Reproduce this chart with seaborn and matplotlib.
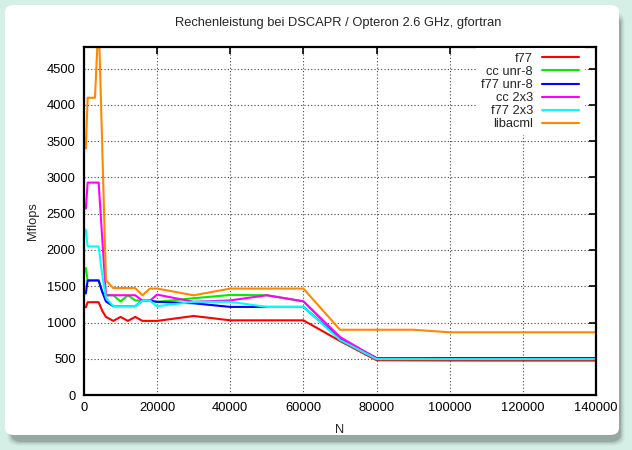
import numpy as np
import pandas as pd
import seaborn as sns
import matplotlib
matplotlib.use("Agg")
import matplotlib.pyplot as plt
from matplotlib.patches import FancyBboxPatch

# ---------------- data ----------------
N = [500, 1000, 2000, 3000, 4000, 5000, 6000, 8000, 10000, 12000, 14000, 16000,
     18000, 20000, 30000, 40000, 50000, 60000, 70000, 80000, 90000, 100000,
     110000, 120000, 130000, 140000]
f77 = [1210, 1280, 1280, 1280, 1280, 1160, 1077, 1022, 1077, 1022, 1077, 1022,
       1022, 1022, 1090, 1030, 1030, 1030, 745, 480, 478, 476, 475, 475, 475, 475]
cc_unr8 = [1750, 1580, 1580, 1580, 1580, 1420, 1376, 1376, 1290, 1376, 1305, 1300,
           1300, 1285, 1335, 1380, 1376, 1290, 780, 505, 505, 505, 505, 505, 505, 505]
f77_unr8 = [1400, 1580, 1580, 1580, 1580, 1420, 1290, 1225, 1225, 1225, 1225, 1300,
            1300, 1285, 1265, 1215, 1215, 1215, 770, 510, 510, 510, 510, 510, 510, 510]
cc_2x3 = [2570, 2930, 2930, 2930, 2930, 2150, 1376, 1376, 1376, 1376, 1376, 1300,
          1300, 1385, 1285, 1305, 1376, 1293, 800, 505, 503, 500, 500, 500, 500, 500]
f77_2x3 = [2280, 2050, 2050, 2050, 2050, 1650, 1340, 1225, 1225, 1225, 1225, 1300,
           1300, 1225, 1285, 1285, 1215, 1215, 760, 495, 495, 495, 495, 495, 495, 495]
libacml = [3400, 4100, 4100, 4100, 5200, 3400, 1580, 1475, 1475, 1475, 1475, 1375,
           1468, 1468, 1375, 1468, 1468, 1468, 900, 900, 900, 865, 865, 865, 865, 865]

series_names = ["f77", "cc unr-8", "f77 unr-8", "cc 2x3", "f77 2x3", "libacml"]
series_vals = [f77, cc_unr8, f77_unr8, cc_2x3, f77_2x3, libacml]
colors = ["#ff0000", "#00ee00", "#0000ff", "#ff00ff", "#00ffff", "#ff8800"]

title = "Rechenleistung bei DSCAPR / Opteron 2.6 GHz, gfortran"
xlabel = "N"
ylabel = "Mflops"
xticks = [0, 20000, 40000, 60000, 80000, 100000, 120000, 140000]
yticks = list(range(0, 5000, 500))

df = pd.concat([pd.DataFrame({"N": N, "Mflops": v, "series": s})
                for s, v in zip(series_names, series_vals)], ignore_index=True)

# ---------------- figure ----------------
sns.set_style("white")
plt.rcParams["font.family"] = ["Liberation Sans", "DejaVu Sans"]
FS = 9.3
W, H = 632, 450
fig = plt.figure(figsize=(W / 100, H / 100), dpi=100)
fig.patch.set_facecolor("#d5eee6")

# soft shadow + white rounded panel
for i, a in enumerate([0.06, 0.10, 0.16, 0.25]):
    grow = (3 - i) * 1.2
    sh = FancyBboxPatch(((5 + 6 - grow) / W, 1 - (435 + 7 + grow) / H),
                        (614 + 2 * grow - 4) / W, (430 + 2 * grow - 4) / H,
                        boxstyle="round,pad=0,rounding_size=0.018",
                        transform=fig.transFigure, facecolor="#4f5c58",
                        edgecolor="none", alpha=a, zorder=0)
    fig.patches.append(sh)
panel = FancyBboxPatch((5 / W, 1 - 435 / H), 614 / W, 430 / H,
                       boxstyle="round,pad=0,rounding_size=0.015",
                       transform=fig.transFigure, facecolor="white",
                       edgecolor="none", zorder=1)
fig.patches.append(panel)

ax = fig.add_axes([84 / W, 1 - 395 / H, (596 - 84) / W, (395 - 47) / H])
ax.set_zorder(5)
ax.set_facecolor("none")

sns.lineplot(data=df, x="N", y="Mflops", hue="series", hue_order=series_names,
             palette=colors, estimator=None, sort=False, linewidth=1.5, ax=ax)

ax.set_xlim(0, 140000)
ax.set_ylim(0, 4800)
ax.set_xticks(xticks)
ax.set_yticks(yticks)
ax.set_xticklabels([str(t) for t in xticks])
ax.set_yticklabels([str(t) for t in yticks])
ax.tick_params(direction="in", length=5, width=1.2, top=True, right=True,
               labelsize=FS, colors="black", pad=5)
ax.tick_params(axis="y", pad=6)
ax.grid(True, color="#444444", linestyle=(0, (1, 2)), linewidth=0.8)
for sp in ax.spines.values():
    sp.set_visible(True)
    sp.set_color("black")
    sp.set_linewidth(1.6)
ax.set_xlabel("")
ax.set_ylabel("")

handles, labels = ax.get_legend_handles_labels()
leg = ax.legend(handles, labels, loc="upper right", frameon=True, markerfirst=False,
                fontsize=FS, handlelength=2.9, labelspacing=0.08, handletextpad=0.7,
                borderaxespad=0.0, borderpad=0.4, bbox_to_anchor=(0.9777, 0.998),
                fancybox=False)
leg.get_frame().set_facecolor("white")
leg.get_frame().set_edgecolor("none")
leg.get_frame().set_alpha(1.0)

t1 = fig.text(338 / W, 1 - 23 / H, title, ha="center", va="center", fontsize=FS)
t2 = fig.text(340 / W, 1 - 430 / H, xlabel, ha="center", va="center", fontsize=FS)
t3 = fig.text(33 / W, 1 - 221 / H, ylabel, ha="center", va="center", fontsize=FS,
              rotation=90)
for t in (t1, t2, t3):
    t.set_zorder(6)

fig.savefig("out.png", dpi=100, facecolor=fig.get_facecolor())
